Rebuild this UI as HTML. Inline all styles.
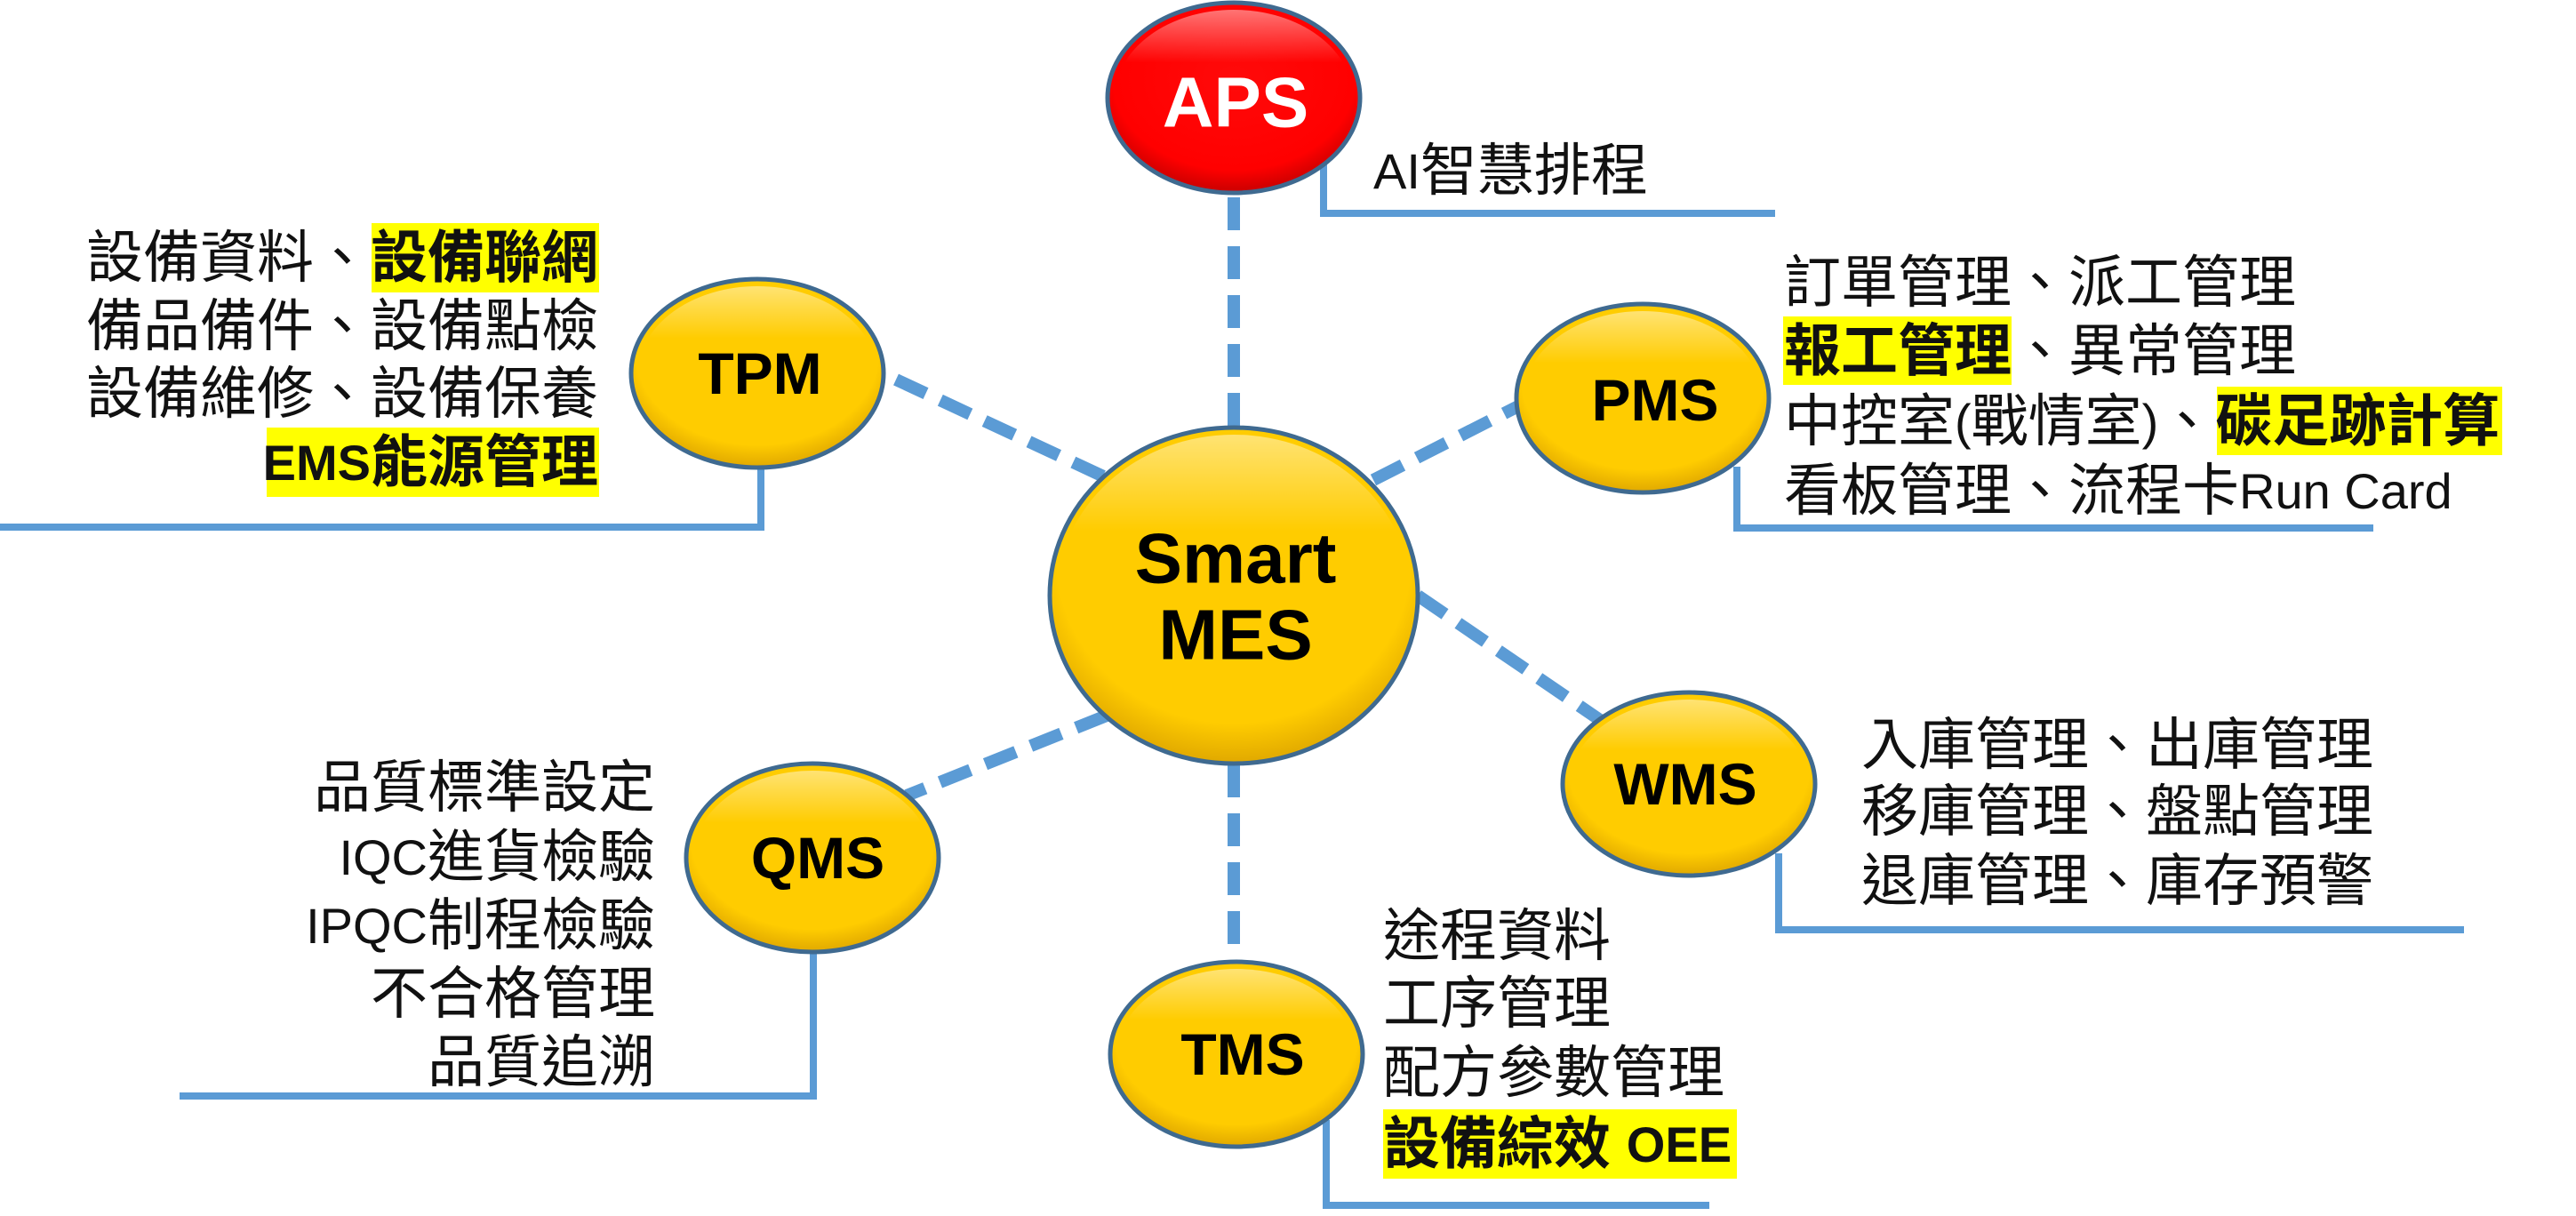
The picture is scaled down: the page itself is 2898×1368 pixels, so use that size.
<!DOCTYPE html>
<html><head><meta charset="utf-8"><style>
html,body{margin:0;padding:0;background:#fff;}
svg{display:block;}
text{font-family:"Liberation Sans","Noto Sans CJK TC",sans-serif;}
.t{font-size:64px;fill:#111;dominant-baseline:central;}
.b{font-weight:bold;}
.l{font-size:56px;}
.lab{font-weight:bold;fill:#000;text-anchor:middle;dominant-baseline:central;}
</style></head><body>
<svg width="2898" height="1368" viewBox="0 0 2898 1368" xmlns="http://www.w3.org/2000/svg">
<defs>
<radialGradient id="gy" cx="50%" cy="40%" r="60%">
<stop offset="0" stop-color="#ffcc00"/><stop offset="0.8" stop-color="#ffcc00"/><stop offset="1" stop-color="#e0a800"/>
</radialGradient>
<radialGradient id="gr" cx="50%" cy="40%" r="60%">
<stop offset="0" stop-color="#ff0a0a"/><stop offset="0.8" stop-color="#ff0000"/><stop offset="1" stop-color="#c80000"/>
</radialGradient>
<linearGradient id="hl" x1="0" y1="0" x2="0" y2="1">
<stop offset="0" stop-color="#ffffff" stop-opacity="0.45"/><stop offset="0.3" stop-color="#ffffff" stop-opacity="0"/>
</linearGradient>
</defs>

<g stroke="#5b9bd5" stroke-width="14" stroke-dasharray="37 18" fill="none">
<line x1="1388" y1="222" x2="1388" y2="482"/>
<line x1="1388" y1="860" x2="1388" y2="1082"/>
<line x1="1008" y1="427" x2="1250" y2="540"/>
<line x1="1545" y1="540" x2="1712" y2="455"/>
<line x1="1595" y1="670" x2="1800" y2="810"/>
<line x1="1245" y1="805" x2="1020" y2="895"/>
</g>

<g stroke="#5b9bd5" stroke-width="8" fill="none">
<polyline points="1489,185 1489,240 1997,240"/>
<polyline points="856,500 856,593 0,593"/>
<polyline points="915,1050 915,1233 202,1233"/>
<polyline points="1954,525 1954,594 2670,594"/>
<polyline points="2001,960 2001,1046 2772,1046"/>
<polyline points="1492,1260 1492,1356 1923,1356"/>
</g>

<g stroke="#3f6a90" stroke-width="5">
<ellipse cx="1388" cy="110" rx="142" ry="107" fill="url(#gr)"/>
<ellipse cx="1388" cy="670" rx="207" ry="189" fill="url(#gy)"/>
<ellipse cx="852" cy="420" rx="142" ry="106" fill="url(#gy)"/>
<ellipse cx="914" cy="965" rx="142" ry="106" fill="url(#gy)"/>
<ellipse cx="1848" cy="448" rx="142" ry="106" fill="url(#gy)"/>
<ellipse cx="1900" cy="882" rx="142" ry="103" fill="url(#gy)"/>
<ellipse cx="1391" cy="1186" rx="142" ry="104" fill="url(#gy)"/>
</g>
<g fill="url(#hl)">
<ellipse cx="1388" cy="110" rx="134" ry="99"/>
<ellipse cx="1388" cy="670" rx="199" ry="181"/>
<ellipse cx="852" cy="420" rx="134" ry="98"/>
<ellipse cx="914" cy="965" rx="134" ry="98"/>
<ellipse cx="1848" cy="448" rx="134" ry="98"/>
<ellipse cx="1900" cy="882" rx="134" ry="95"/>
<ellipse cx="1391" cy="1186" rx="134" ry="96"/>
</g>

<text class="lab" x="1390" y="115" font-size="80" style="fill:#fff">APS</text>
<text class="lab" x="1390" y="628" font-size="80">Smart</text>
<text class="lab" x="1390" y="714" font-size="80">MES</text>
<text class="lab" x="855" y="420" font-size="66">TPM</text>
<text class="lab" x="920" y="965" font-size="66">QMS</text>
<text class="lab" x="1862" y="450" font-size="66">PMS</text>
<text class="lab" x="1896" y="882" font-size="66">WMS</text>
<text class="lab" x="1398" y="1186" font-size="66">TMS</text>

<g fill="#ffff00">
<rect x="418" y="251" width="256" height="78"/>
<rect x="300" y="481" width="374" height="78"/>
<rect x="2006" y="356" width="257" height="77"/>
<rect x="2494" y="435" width="321" height="77"/>
<rect x="1556" y="1248" width="398" height="78"/>
</g>

<text class="t" x="1545" y="192"><tspan class="l">AI</tspan>智慧排程</text>

<text class="t" x="673" y="290" text-anchor="end">設備資料、<tspan class="b">設備聯網</tspan></text>
<text class="t" x="673" y="367" text-anchor="end">備品備件、設備點檢</text>
<text class="t" x="673" y="443" text-anchor="end">設備維修、設備保養</text>
<text class="t b" x="673" y="520" text-anchor="end"><tspan class="l">EMS</tspan>能源管理</text>

<text class="t" x="737" y="886" text-anchor="end">品質標準設定</text>
<text class="t" x="737" y="964" text-anchor="end"><tspan class="l">IQC</tspan>進貨檢驗</text>
<text class="t" x="737" y="1041" text-anchor="end"><tspan class="l">IPQC</tspan>制程檢驗</text>
<text class="t" x="737" y="1118" text-anchor="end">不合格管理</text>
<text class="t" x="737" y="1195" text-anchor="end">品質追溯</text>

<text class="t" x="2007" y="318">訂單管理、派工管理</text>
<text class="t" x="2007" y="395"><tspan class="b">報工管理</tspan>、異常管理</text>
<text class="t" x="2007" y="474">中控室<tspan class="l">(</tspan>戰情室<tspan class="l">)</tspan>、<tspan class="b">碳足跡計算</tspan></text>
<text class="t" x="2007" y="552">看板管理、流程卡<tspan class="l">Run Card</tspan></text>

<text class="t" x="2094" y="838">入庫管理、出庫管理</text>
<text class="t" x="2094" y="913">移庫管理、盤點管理</text>
<text class="t" x="2094" y="991">退庫管理、庫存預警</text>

<text class="t" x="1556" y="1053">途程資料</text>
<text class="t" x="1556" y="1129">工序管理</text>
<text class="t" x="1556" y="1207">配方參數管理</text>
<text class="t b" x="1556" y="1287">設備綜效 <tspan class="l">OEE</tspan></text>
</svg>
</body></html>
